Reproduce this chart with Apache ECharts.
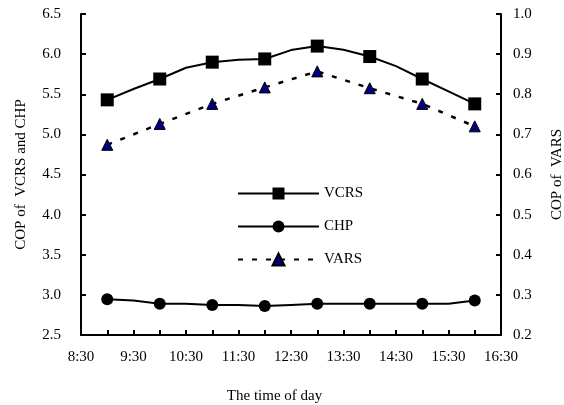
<!DOCTYPE html>
<html>
<head>
<meta charset="utf-8">
<script src="https://cdn.jsdelivr.net/npm/echarts@6/dist/echarts.min.js"></script>
<style>html,body{margin:0;padding:0;background:#fff;}#c{width:564px;height:405px;}</style>
</head>
<body>
<div id="c"></div>
<script>
// time of day (hours), 30-minute resolution; markers drawn at whole hours
var times = [9, 9.5, 10, 10.5, 11, 11.5, 12, 12.5, 13, 13.5, 14, 14.5, 15, 15.5, 16];
var vcrs  = [5.43, 5.565, 5.69, 5.83, 5.90, 5.93, 5.94, 6.05, 6.10, 6.055, 5.97, 5.85, 5.69, 5.535, 5.38];
var chp   = [2.946, 2.929, 2.888, 2.888, 2.875, 2.875, 2.86, 2.875, 2.888, 2.888, 2.888, 2.888, 2.888, 2.888, 2.929];
var varsTimes = [9, 10, 11, 12, 13, 14, 15, 16];
var vars  = [0.674, 0.726, 0.776, 0.817, 0.857, 0.815, 0.776, 0.72];
var tickValues = [8.5, 9.5, 10.5, 11.5, 12.5, 13.5, 14.5, 15.5, 16.5];
var tickLabels = ['8:30', '9:30', '10:30', '11:30', '12:30', '13:30', '14:30', '15:30', '16:30'];

var FONT = "'Liberation Serif', 'Times New Roman', serif";

function build(xs, ys, sym) {
  return xs.map(function (t, i) {
    return { value: [t, ys[i]], symbol: (Math.abs(t - Math.round(t)) < 1e-9) ? sym : 'none' };
  });
}

var chart = echarts.init(document.getElementById('c'), null, { renderer: 'canvas' });
var axisCommon = {
  axisLine: { show: true, onZero: false, lineStyle: { color: '#000', width: 2 } },
  axisTick: { show: true, inside: true, length: 5, lineStyle: { color: '#000', width: 2 } },
  splitLine: { show: false }
};
chart.setOption({
  animation: false,
  backgroundColor: '#fff',
  grid: { left: 81, right: 63, top: 14, bottom: 70, containLabel: false, outerBoundsMode: 'none' },
  legend: {
    orient: 'vertical',
    left: 232, top: 181,
    itemWidth: 81, itemHeight: 15, itemGap: 18,
    textStyle: { fontFamily: FONT, fontSize: 15, color: '#000' },
    data: ['VCRS', 'CHP', 'VARS']
  },
  xAxis: Object.assign({
    type: 'value', min: 8.5, max: 16.5, interval: 0.5,
    name: 'The time of day', nameLocation: 'middle', nameGap: 54,
    nameTextStyle: { fontFamily: FONT, fontSize: 15, color: '#000', padding: [0, 33, 0, 0] },
    axisLabel: {
      fontFamily: FONT, fontSize: 15, color: '#000', margin: 15,
      showMinLabel: true, showMaxLabel: true,
      formatter: function (v) {
        for (var i = 0; i < tickValues.length; i++) if (Math.abs(tickValues[i] - v) < 1e-6) return tickLabels[i];
        return '';
      }
    }
  }, axisCommon),
  yAxis: [
    Object.assign({
      type: 'value', min: 2.5, max: 6.5, interval: 0.5, position: 'left',
      name: 'COP of  VCRS and CHP', nameLocation: 'middle', nameGap: 52, nameRotate: 90,
      nameTextStyle: { fontFamily: FONT, fontSize: 15, color: '#000' },
      axisLabel: { fontFamily: FONT, fontSize: 15, color: '#000', margin: 20, formatter: function (v) { return v.toFixed(1); } }
    }, axisCommon),
    Object.assign({
      type: 'value', min: 0.2, max: 1.0, interval: 0.1, position: 'right',
      name: 'COP of  VARS', nameLocation: 'middle', nameGap: 49, nameRotate: 90,
      nameTextStyle: { fontFamily: FONT, fontSize: 15, color: '#000' },
      axisLabel: { fontFamily: FONT, fontSize: 15, color: '#000', margin: 12, formatter: function (v) { return v.toFixed(1); } }
    }, axisCommon)
  ],
  series: [
    {
      name: 'VCRS', type: 'line', yAxisIndex: 0, showAllSymbol: true,
      symbol: 'rect', symbolSize: 13,
      data: build(times, vcrs, 'rect'),
      lineStyle: { color: '#000', width: 2 },
      itemStyle: { color: '#000' }
    },
    {
      name: 'CHP', type: 'line', yAxisIndex: 0, showAllSymbol: true,
      symbol: 'circle', symbolSize: 12,
      data: build(times, chp, 'circle'),
      lineStyle: { color: '#000', width: 2 },
      itemStyle: { color: '#000' }
    },
    {
      name: 'VARS', type: 'line', yAxisIndex: 1, showAllSymbol: true,
      symbol: 'triangle', symbolSize: 11,
      data: build(varsTimes, vars, 'triangle'),
      lineStyle: { color: '#000', width: 2.5, type: [5, 9] },
      itemStyle: { color: '#000080', borderColor: '#000', borderWidth: 1 }
    }
  ]
});
</script>
</body>
</html>
